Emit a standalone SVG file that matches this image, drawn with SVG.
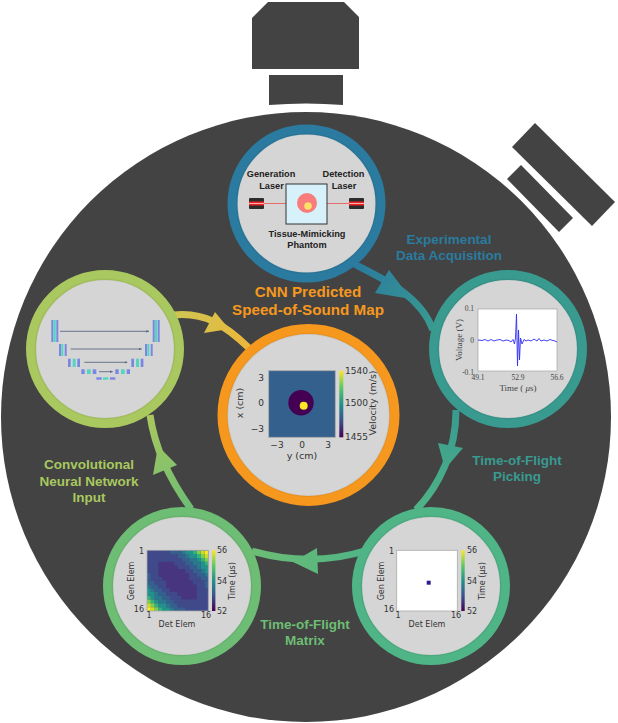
<svg xmlns="http://www.w3.org/2000/svg" xmlns:xlink="http://www.w3.org/1999/xlink" width="618" height="723" viewBox="0 0 618 723">
<style>
.hw{fill:#434343}
.disc{fill:#d5d5d5;stroke-width:10}
.edge{fill:none;stroke:#000;stroke-opacity:.05;stroke-width:2}
.cap{font-family:"Liberation Sans",Arial,sans-serif;font-weight:700;font-size:13.500px;text-anchor:middle}
.big{font-size:15.200px}
.sch{font-family:"Liberation Sans",Arial,sans-serif;font-weight:700;font-size:9.200px;text-anchor:middle;fill:#222}
.pl{font-family:"DejaVu Sans",sans-serif;font-size:8px;fill:#333}
.ctr{font-family:"DejaVu Sans",sans-serif;font-size:9px;fill:#333}
.axis{font-size:9.500px}
.mid{text-anchor:middle}
.end{text-anchor:end}
.ser{font-family:"Liberation Serif",serif;font-size:7.500px;fill:#444}
.ser.title{font-size:9px}
.frame{fill:none;stroke:#aaa;stroke-width:.8}
.blue{fill:#7a86e2}
.teal{fill:#4fd8bd}
.skip{stroke:#5a6a82;stroke-width:.9;fill:none;marker-end:url(#tip)}
.wire{fill:none;stroke-width:7}
</style>
<defs>
<marker id="tip" markerWidth="4" markerHeight="4" refX="3" refY="1.5" orient="auto"><path d="M0 0L3 1.5L0 3z" fill="#5a6a82"/></marker>
<linearGradient id="viridis" x1="0" y1="1" x2="0" y2="0">
<stop offset="0" stop-color="#440154"/><stop offset=".25" stop-color="#3b528b"/><stop offset=".5" stop-color="#21918c"/><stop offset=".75" stop-color="#5ec962"/><stop offset="1" stop-color="#fde725"/>
</linearGradient>
<linearGradient id="g1" gradientUnits="userSpaceOnUse" x1="355" y1="265" x2="433" y2="328"><stop offset="0" stop-color="#2a7b9f"/><stop offset="1" stop-color="#399a90"/></linearGradient>
<linearGradient id="g2" gradientUnits="userSpaceOnUse" x1="455" y1="410" x2="417" y2="508"><stop offset="0" stop-color="#399a90"/><stop offset="1" stop-color="#4fb486"/></linearGradient>
<linearGradient id="g3" gradientUnits="userSpaceOnUse" x1="367" y1="550" x2="253" y2="552"><stop offset="0" stop-color="#4fb486"/><stop offset="1" stop-color="#6dbd74"/></linearGradient>
<linearGradient id="g4" gradientUnits="userSpaceOnUse" x1="190" y1="508" x2="150" y2="417"><stop offset="0" stop-color="#6dbd74"/><stop offset="1" stop-color="#a9c85f"/></linearGradient>
<linearGradient id="g5" gradientUnits="userSpaceOnUse" x1="175" y1="315" x2="247" y2="347"><stop offset="0" stop-color="#cfc552"/><stop offset="1" stop-color="#ebb73a"/></linearGradient>
<filter id="soften" x="-5%" y="-5%" width="110%" height="110%"><feGaussianBlur stdDeviation=".2"/></filter>
<clipPath id="matrixClip"><rect width="16" height="16"/></clipPath>
<!-- upper half of the symmetric travel-time matrix, one path per colour step -->
<g id="halfMatrix">
<path fill="#3f4a89" d="M0 0h6v1h-6zM0 1h8v1h-8zM0 2h9v1h-9zM0 3h3v1h-3zM7 3h3v1h-3zM0 4h3v1h-3zM8 4h3v1h-3zM0 5h3v1h-3zM10 5h2v1h-2zM1 6h2v1h-2zM11 6h2v1h-2zM1 7h3v1h-3zM11 7h3v1h-3z"/>
<path fill="#355f8d" d="M6 0h3v1h-3zM8 1h2v1h-2zM9 2h2v1h-2zM10 3h2v1h-2zM11 4h2v1h-2zM12 5h2v1h-2zM0 6h1v1h-1zM13 6h2v1h-2zM0 7h1v1h-1zM14 7h2v1h-2z"/>
<path fill="#2a788e" d="M9 0h1v1h-1zM10 1h1v1h-1zM11 2h2v1h-2zM12 3h2v1h-2zM13 4h1v1h-1zM14 5h1v1h-1zM15 6h1v1h-1z"/>
<path fill="#21918c" d="M10 0h2v1h-2zM11 1h2v1h-2zM13 2h1v1h-1zM14 3h1v1h-1zM14 4h2v1h-2zM15 5h1v1h-1z"/>
<path fill="#2fb47c" d="M12 0h1v1h-1zM13 1h1v1h-1zM14 2h1v1h-1zM15 3h1v1h-1z"/>
<path fill="#7ad151" d="M13 0h1v1h-1zM14 1h1v1h-1zM15 2h1v1h-1z"/>
<path fill="#c8e020" d="M14 0h1v1h-1zM15 1h1v1h-1z"/>
<path fill="#fde725" d="M15 0h1v1h-1z"/>
</g>
</defs>

<rect width="618" height="723" fill="#fff"/>

<!-- instrument housing -->
<g id="housing">
<circle class="hw" cx="306" cy="417" r="305"/>
<path class="hw" d="M252 18L268 2H344L359 17V69H252z"/>
<path class="hw" d="M269 75H343V105Q306 102 269 105z"/>
<path class="hw" d="M535 123L615 202L592 226L512 147z"/>
<path class="hw" d="M521 165L573 218L559 232L507 179z"/>
</g>

<g id="connectors">
<path class="wire" stroke="url(#g1)" d="M352 263C385 280 420 295 433 330"/>
<path fill="url(#g1)" d="M375 293L389 270L411 299z"/>
<path class="wire" stroke="url(#g2)" d="M456 410C456 450 440 485 416 510"/>
<path fill="url(#g2)" d="M438 443L463 448L445 469z"/>
<path class="wire" stroke="url(#g3)" d="M368 550C330 562 290 562 252 551"/>
<path fill="url(#g3)" d="M317 548L318 574L293 562z"/>
<path class="wire" stroke="url(#g4)" d="M191 509C170 480 155 450 150 415"/>
<path fill="url(#g4)" d="M177 465L153 475L158 446z"/>
<path class="wire" stroke="url(#g5)" d="M174 315C205 312 225 325 249 348"/>
<path fill="url(#g5)" d="M215 312L204 333L229 329z"/>
</g>

<g id="node-acquisition">
<circle class="disc" cx="306.500" cy="203.500" r="74" stroke="#2a7b9f"/>
<circle class="edge" cx="306.500" cy="203.500" r="69.500"/>
<path d="M264 203.500H286M327 203.500H349" stroke="#e86a6a" stroke-width="1"/>
<g id="laser-gen"><rect x="249" y="198" width="15" height="11" rx="1" fill="#2c2c2c"/><rect x="249" y="201.500" width="15" height="4" fill="#e22"/><rect x="249" y="203" width="15" height="1" fill="#f7b0b0"/></g>
<g id="laser-det"><rect x="349" y="198" width="15" height="11" rx="1" fill="#2c2c2c"/><rect x="349" y="201.500" width="15" height="4" fill="#e22"/><rect x="349" y="203" width="15" height="1" fill="#f7b0b0"/></g>
<rect x="286" y="184" width="41" height="40" fill="#d6f1fa" stroke="#333" stroke-width="1"/>
<circle cx="307" cy="203" r="10" fill="#f97c7c"/>
<circle cx="308" cy="206" r="3.800" fill="#fde068"/>
<text class="sch" x="271" y="177">Generation</text>
<text class="sch" x="271.500" y="189">Laser</text>
<text class="sch" x="343.500" y="177">Detection</text>
<text class="sch" x="344" y="189">Laser</text>
<text class="sch" x="307" y="237">Tissue-Mimicking</text>
<text class="sch" x="307" y="248">Phantom</text>
<text class="cap" fill="#2a7b9f" x="449" y="244">Experimental</text>
<text class="cap" fill="#2a7b9f" x="449" y="260">Data Acquisition</text>
</g>

<g id="node-picking">
<circle class="disc" cx="508" cy="349" r="74" stroke="#399a90"/>
<circle class="edge" cx="508" cy="349" r="69.500"/>
<rect x="478" y="309" width="79" height="62" fill="#fff" stroke="#999" stroke-width=".6"/>
<path fill="none" stroke="#2f2ff0" stroke-width=".9" d="M478 340L482 340.500L485 339.500L488 341L491 339.500L494 341L497 340L500 339.500L503 341L506 340L509 340.500L511 342L513 339.500L514.500 344L515.500 338L516.500 314L517.500 366L518.500 330L519.500 360L520.500 338L522 344L524 339.500L526 341L528 340L531 341L534 339L537 341L539 338.500L541 341L544 340L547 341L550 339.500L553 340.500L555 341L557 342"/>
<text class="ser end" x="474" y="311">0.1</text>
<text class="ser end" x="474" y="343">0</text>
<text class="ser end" x="474" y="375">-0.1</text>
<text class="ser mid" x="478" y="380">49.1</text>
<text class="ser mid" x="518" y="380">52.9</text>
<text class="ser mid" x="557" y="380">56.6</text>
<text class="ser mid title" x="518" y="391">Time ( <tspan font-style="italic">μ</tspan>s)</text>
<text class="ser mid title" transform="translate(462 340) rotate(-90)">Voltage (V)</text>
<text class="cap" fill="#399a90" x="517" y="465">Time-of-Flight</text>
<text class="cap" fill="#399a90" x="517" y="481">Picking</text>
</g>

<g id="node-sparse-matrix">
<circle class="disc" cx="431" cy="586" r="74" stroke="#4fb486"/>
<circle class="edge" cx="431" cy="586" r="69.500"/>
<rect x="396.700" y="550.300" width="60.600" height="60.700" fill="#fff"/>
<rect class="frame" x="396.700" y="550.300" width="60.600" height="60.700"/>
<rect x="426.700" y="580.700" width="4" height="4" fill="#2d1e8f"/>
<rect x="461.300" y="550.300" width="3.400" height="60.700" fill="url(#viridis)"/>
<text class="pl end" x="394" y="554">1</text>
<text class="pl end" x="394" y="612">16</text>
<text class="pl mid" x="398" y="618">1</text>
<text class="pl mid" x="456" y="618">16</text>
<text class="pl mid" x="427" y="627">Det Elem</text>
<text class="pl mid" transform="translate(384 581) rotate(-90)">Gen Elem</text>
<text class="pl" x="467" y="553">56</text>
<text class="pl" x="467" y="584">54</text>
<text class="pl" x="467" y="614">52</text>
<text class="pl mid" transform="translate(485 581) rotate(-90)">Time (μs)</text>
</g>

<g id="node-matrix">
<circle class="disc" cx="182" cy="586" r="74" stroke="#6dbd74"/>
<circle class="edge" cx="182" cy="586" r="69.500"/>
<g transform="translate(147 550.300) scale(3.830 3.790)">
<rect width="16" height="16" fill="#463480"/>
<g clip-path="url(#matrixClip)"><g filter="url(#soften)">
<rect width="16" height="16" fill="#463480"/>
<use xlink:href="#halfMatrix" href="#halfMatrix"/>
<use xlink:href="#halfMatrix" href="#halfMatrix" transform="rotate(180 8 8)"/>
</g></g>
</g>
<rect class="frame" x="147" y="550.300" width="61.300" height="60.700"/>
<rect x="212" y="550.300" width="3.400" height="60.700" fill="url(#viridis)"/>
<text class="pl end" x="144" y="554">1</text>
<text class="pl end" x="144" y="612">16</text>
<text class="pl mid" x="149" y="618">1</text>
<text class="pl mid" x="206" y="618">16</text>
<text class="pl mid" x="177" y="627">Det Elem</text>
<text class="pl mid" transform="translate(134 581) rotate(-90)">Gen Elem</text>
<text class="pl" x="217" y="553">56</text>
<text class="pl" x="217" y="584">54</text>
<text class="pl" x="217" y="614">52</text>
<text class="pl mid" transform="translate(235 581) rotate(-90)">Time (μs)</text>
<text class="cap" fill="#6dbd74" x="305" y="629">Time-of-Flight</text>
<text class="cap" fill="#6dbd74" x="305" y="645">Matrix</text>
</g>

<g id="node-network">
<circle class="disc" cx="105" cy="349" r="74" stroke="#a9c85f"/>
<circle class="edge" cx="105" cy="349" r="69.500"/>
<!-- encoder and decoder blocks, top level downwards -->
<g class="blue"><rect x="51.300" y="320" width="2" height="22"/><rect x="56.300" y="320" width="2" height="22"/><rect x="152.700" y="320" width="2" height="22"/><rect x="157.700" y="320" width="2" height="22"/>
<rect x="59" y="344" width="2" height="12"/><rect x="64.700" y="344" width="2" height="12"/><rect x="145" y="344" width="2" height="12"/><rect x="150.700" y="344" width="2" height="12"/>
<rect x="68" y="358.700" width="2.700" height="8.300"/><rect x="77.300" y="358.700" width="2.700" height="8.300"/><rect x="131.300" y="358.700" width="2.700" height="8.300"/><rect x="140.700" y="358.700" width="2.700" height="8.300"/>
<rect x="81.300" y="369.300" width="3.400" height="4.700"/><rect x="92.700" y="369.300" width="3.600" height="4.700"/><rect x="115.300" y="369.300" width="3.400" height="4.700"/><rect x="126.700" y="369.300" width="3.300" height="4.700"/>
<rect x="96.300" y="377.300" width="5.400" height="2.400"/><rect x="110" y="377.300" width="5.300" height="2.400"/></g>
<g class="teal"><rect x="53.500" y="320" width="2.200" height="22"/><rect x="155" y="320" width="2.200" height="22"/>
<rect x="61.300" y="344" width="2" height="12"/><rect x="147.300" y="344" width="2" height="12"/>
<rect x="72.700" y="358.700" width="3" height="8.300"/><rect x="136" y="358.700" width="3" height="8.300"/>
<rect x="87" y="369.300" width="3.700" height="4.700"/><rect x="121" y="369.300" width="3.700" height="4.700"/>
<rect x="103" y="377.300" width="5.300" height="2.400"/></g>
<path class="skip" d="M60 331.300H149"/>
<path class="skip" d="M70.700 349H141.700"/>
<path class="skip" d="M84.300 362.300H127.300"/>
<path class="skip" d="M99 371.700H112.700"/>
<text class="cap" fill="#a9c85f" x="89" y="469">Convolutional</text>
<text class="cap" fill="#a9c85f" x="89" y="486">Neural Network</text>
<text class="cap" fill="#a9c85f" x="89" y="502">Input</text>
</g>

<g id="node-prediction">
<circle class="disc" cx="308.500" cy="415" r="86" stroke="#f6981e"/>
<circle class="edge" cx="308.500" cy="415" r="81"/>
<rect x="268.700" y="370.700" width="66.600" height="66.600" fill="#33608d"/>
<rect class="frame" x="268.700" y="370.700" width="66.600" height="66.600"/>
<circle cx="301" cy="402.700" r="12.700" fill="#440154"/>
<circle cx="303.700" cy="405.700" r="4" fill="#fde725"/>
<rect x="339.300" y="370.700" width="4" height="66.600" fill="url(#viridis)"/>
<text class="ctr" x="345" y="373.500">1540</text>
<text class="ctr" x="345" y="405.500">1500</text>
<text class="ctr" x="345" y="440">1455</text>
<text class="ctr axis mid" transform="translate(376 403) rotate(-90)">Velocity (m/s)</text>
<text class="ctr end" x="264" y="381">3</text>
<text class="ctr end" x="264" y="406">0</text>
<text class="ctr end" x="264" y="432">−3</text>
<text class="ctr mid" x="277" y="448">−3</text>
<text class="ctr mid" x="302" y="448">0</text>
<text class="ctr mid" x="328" y="448">3</text>
<text class="ctr axis mid" x="302" y="459">y (cm)</text>
<text class="ctr axis mid" transform="translate(243 403) rotate(-90)">x (cm)</text>
<text class="cap big" fill="#f6981e" x="308" y="297">CNN Predicted</text>
<text class="cap big" fill="#f6981e" x="308" y="315">Speed-of-Sound Map</text>
</g>
</svg>
